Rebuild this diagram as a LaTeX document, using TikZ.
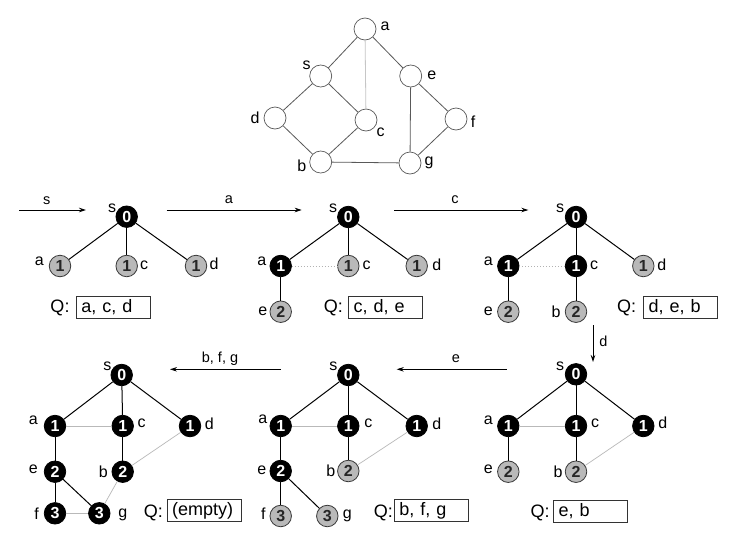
\documentclass[tikz,border=0pt]{standalone}
\usepackage{fontspec}
\setmainfont{Liberation Sans}
\usetikzlibrary{arrows.meta}
\begin{document}
\begin{tikzpicture}[x=1pt,y=-1pt,
  v/.style={circle, minimum size=21.5pt, inner sep=0pt, line width=0.8pt, font=\fontsize{16}{16}\selectfont\bfseries},
  bn/.style={v, fill=black, draw=black, text=white},
  gn/.style={v, fill=gray!55, draw=gray!45!black, text=black!85},
  wn/.style={circle, minimum size=22pt, inner sep=0pt, fill=white, draw=gray!70!black, line width=0.7pt},
  lab/.style={font=\fontsize{16}{16}\selectfont, inner sep=0.5pt},
  alab/.style={font=\fontsize{14.5}{14.5}\selectfont, inner sep=0.5pt},
  qlab/.style={font=\fontsize{18}{18}\selectfont, inner sep=0.5pt},
  qbox/.style={draw=black!80, line width=0.7pt, minimum width=74pt, minimum height=22pt, inner xsep=5pt, inner ysep=0pt, text width=64pt, align=left, anchor=west, font=\fontsize{18}{18}\selectfont},
  te/.style={black, line width=1pt},
  ne/.style={gray!55, line width=0.7pt},
  de/.style={gray!60, line width=1pt, dotted},
  ge/.style={gray!70!black, line width=0.8pt},
  gl/.style={gray!45, line width=0.8pt},
  trans/.style={-{Stealth[length=7pt,width=4.5pt]}, black, line width=0.8pt}
]
\useasboundingbox (0,0) rectangle (730,552);
\fill[white] (0,0) rectangle (730,552);

% ---------- top graph ----------
\node[wn] (Ga) at (365,29) {};
\node[wn] (Gs) at (320.7,76) {};
\node[wn] (Ge) at (410.7,76) {};
\node[wn] (Gd) at (275,118) {};
\node[wn] (Gc) at (366,120) {};
\node[wn] (Gf) at (456,119) {};
\node[wn] (Gb) at (320.7,162) {};
\node[wn] (Gg) at (410,163) {};
\node[lab] (GLa) at (385,26.7) {a};
\node[lab] (GLs) at (306.7,65) {s};
\node[lab] (GLe) at (431.7,75) {e};
\node[lab] (GLd) at (255,118) {d};
\node[lab] (GLc) at (380.7,132.7) {c};
\node[lab] (GLf) at (473,122) {f};
\node[lab] (GLb) at (301.7,165.7) {b};
\node[lab] (GLg) at (429,163) {g};
\draw[ge] (Ga) -- (Gs);
\draw[gl] (Ga) -- (Gc);
\draw[ge] (Ga) -- (Ge);
\draw[ge] (Gs) -- (Gd);
\draw[ge] (Gs) -- (Gc);
\draw[ge] (Gd) -- (Gb);
\draw[ge] (Gc) -- (Gb);
\draw[ge] (Gb) -- (Gg);
\draw[ge] (Ge) -- (Gg);
\draw[ge] (Ge) -- (Gf);
\draw[ge] (Gf) -- (Gg);

% ---------- transitions ----------
\coordinate (T1a) at (19,210);   \coordinate (T1b) at (86,210);
\coordinate (T2a) at (166.7,210); \coordinate (T2b) at (301.7,210);
\coordinate (T3a) at (394,210);  \coordinate (T3b) at (528.3,210);
\coordinate (T4a) at (593,325);  \coordinate (T4b) at (593,362);
\coordinate (T5a) at (506.7,369.3); \coordinate (T5b) at (396.7,369.3);
\coordinate (T6a) at (280.7,369.3); \coordinate (T6b) at (170,369.3);
\draw[trans] (T1a) -- (T1b);
\draw[trans] (T2a) -- (T2b);
\draw[trans] (T3a) -- (T3b);
\draw[trans] (T4a) -- (T4b);
\draw[trans] (T5a) -- (T5b);
\draw[trans] (T6a) -- (T6b);
\node[alab] (TL1) at (46.7,201) {s};
\node[alab] (TL2) at (229,200) {a};
\node[alab] (TL3) at (455,200) {c};
\node[alab] (TL4) at (603.3,341.7) {d};
\node[alab] (TL5) at (456,358.3) {e};
\node[alab] (TL6) at (220,359) {b, f, g};

% ---------- tree 1 ----------
\node[bn] (A1s) at (126.7,216.7) {0};
\node[gn] (A1a) at (60,266) {1};
\node[gn] (A1c) at (126.7,266) {1};
\node[gn] (A1d) at (196,266) {1};
\draw[te] (A1s) -- (A1a);
\draw[te] (A1s) -- (A1c);
\draw[te] (A1s) -- (A1d);
\node[lab] (A1Ls) at (112,208) {s};
\node[lab] (A1La) at (39.3,261) {a};
\node[lab] (A1Lc) at (144,265) {c};
\node[lab] (A1Ld) at (214,264) {d};
\node[qlab] (A1Q) at (60,308) {Q:};
\node[qbox] (A1B) at (76,307) {a, c, d};

% ---------- tree 2 ----------
\node[bn] (A2s) at (348.3,217) {0};
\node[bn] (A2a) at (280.7,266) {1};
\node[gn] (A2c) at (348.3,266) {1};
\node[gn] (A2d) at (416.7,266) {1};
\node[gn] (A2e) at (280.7,311.7) {2};
\draw[te] (A2s) -- (A2a);
\draw[te] (A2s) -- (A2c);
\draw[te] (A2s) -- (A2d);
\draw[te] (A2a) -- (A2e);
\draw[de] (A2a) -- (A2c);
\node[lab] (A2Ls) at (333,208) {s};
\node[lab] (A2La) at (261.7,261) {a};
\node[lab] (A2Lc) at (366.7,265) {c};
\node[lab] (A2Ld) at (436.7,265) {d};
\node[lab] (A2Le) at (262.7,311.7) {e};
\node[qlab] (A2Q) at (333.3,308) {Q:};
\node[qbox] (A2B) at (348.3,307) {c, d, e};

% ---------- tree 3 ----------
\node[bn] (A3s) at (576,217) {0};
\node[bn] (A3a) at (508.3,266) {1};
\node[bn] (A3c) at (576,266) {1};
\node[gn] (A3d) at (643.3,266) {1};
\node[gn] (A3e) at (508.3,311.7) {2};
\node[gn] (A3b) at (576,311.7) {2};
\draw[te] (A3s) -- (A3a);
\draw[te] (A3s) -- (A3c);
\draw[te] (A3s) -- (A3d);
\draw[te] (A3a) -- (A3e);
\draw[te] (A3c) -- (A3b);
\draw[de] (A3a) -- (A3c);
\node[lab] (A3Ls) at (560,208) {s};
\node[lab] (A3La) at (488.3,261.7) {a};
\node[lab] (A3Lc) at (594,265) {c};
\node[lab] (A3Ld) at (661.7,265) {d};
\node[lab] (A3Le) at (488.3,311.7) {e};
\node[lab] (A3Lb) at (556,311.7) {b};
\node[qlab] (A3Q) at (626.7,308) {Q:};
\node[qbox] (A3B) at (643.3,307) {d, e, b};

% ---------- tree 4 ----------
\node[bn] (A4s) at (576,374.3) {0};
\node[bn] (A4a) at (508.3,426) {1};
\node[bn] (A4c) at (576,426) {1};
\node[bn] (A4d) at (643.3,426) {1};
\node[gn] (A4e) at (508.3,471.7) {2};
\node[gn] (A4b) at (576,471.7) {2};
\draw[te] (A4s) -- (A4a);
\draw[te] (A4s) -- (A4c);
\draw[te] (A4s) -- (A4d);
\draw[te] (A4a) -- (A4e);
\draw[te] (A4c) -- (A4b);
\draw[ne] (A4a) -- (A4c);
\draw[ne] (A4d) -- (A4b);
\node[lab] (A4Ls) at (560,366.7) {s};
\node[lab] (A4La) at (488.3,420) {a};
\node[lab] (A4Lc) at (595,423) {c};
\node[lab] (A4Ld) at (662.7,423) {d};
\node[lab] (A4Le) at (488.3,469) {e};
\node[lab] (A4Lb) at (558,471.7) {b};
\node[qlab] (A4Q) at (540,512.7) {Q:};
\node[qbox] (A4B) at (553.3,511) {e, b};

% ---------- tree 5 ----------
\node[bn] (A5s) at (348.3,375) {0};
\node[bn] (A5a) at (280.7,426) {1};
\node[bn] (A5c) at (348.3,426) {1};
\node[bn] (A5d) at (416.7,426) {1};
\node[bn] (A5e) at (280.7,471) {2};
\node[gn] (A5b) at (348.3,471) {2};
\node[gn] (A5f) at (280.7,516) {3};
\node[gn] (A5g) at (327.3,516) {3};
\draw[te] (A5s) -- (A5a);
\draw[te] (A5s) -- (A5c);
\draw[te] (A5s) -- (A5d);
\draw[te] (A5a) -- (A5e);
\draw[te] (A5c) -- (A5b);
\draw[te] (A5e) -- (A5f);
\draw[te] (A5e) -- (A5g);
\draw[ne] (A5a) -- (A5c);
\draw[ne] (A5d) -- (A5b);
\node[lab] (A5Ls) at (333.3,366.7) {s};
\node[lab] (A5La) at (262.7,419.3) {a};
\node[lab] (A5Lc) at (368.3,423.3) {c};
\node[lab] (A5Ld) at (436.7,423.3) {d};
\node[lab] (A5Le) at (261.7,470) {e};
\node[lab] (A5Lb) at (330.7,471) {b};
\node[lab] (A5Lf) at (263.3,513.3) {f};
\node[lab] (A5Lg) at (347.3,516) {g};
\node[qlab] (A5Q) at (383.3,512.7) {Q:};
\node[qbox] (A5B) at (394,510.5) {b, f, g};

% ---------- tree 6 ----------
\node[bn] (A6s) at (121.7,375) {0};
\node[bn] (A6a) at (55,426) {1};
\node[bn] (A6c) at (122.7,426) {1};
\node[bn] (A6d) at (190,426) {1};
\node[bn] (A6e) at (55,471.7) {2};
\node[bn] (A6b) at (122.7,471.7) {2};
\node[bn] (A6f) at (55,513.3) {3};
\node[bn] (A6g) at (99.3,513.3) {3};
\draw[te] (A6s) -- (A6a);
\draw[te] (A6s) -- (A6c);
\draw[te] (A6s) -- (A6d);
\draw[te] (A6a) -- (A6e);
\draw[te] (A6c) -- (A6b);
\draw[te] (A6e) -- (A6f);
\draw[te] (A6e) -- (A6g);
\draw[ne] (A6a) -- (A6c);
\draw[ne] (A6d) -- (A6b);
\draw[ne] (A6b) -- (A6g);
\draw[ne] (A6f) -- (A6g);
\node[lab] (A6Ls) at (107.3,366) {s};
\node[lab] (A6La) at (33.3,420) {a};
\node[lab] (A6Lc) at (141.7,423.3) {c};
\node[lab] (A6Ld) at (209.3,423.3) {d};
\node[lab] (A6Le) at (33.3,469.3) {e};
\node[lab] (A6Lb) at (103.3,471.7) {b};
\node[lab] (A6Lf) at (36.7,513.3) {f};
\node[lab] (A6Lg) at (122.7,515) {g};
\node[qlab] (A6Q) at (153.3,512.7) {Q:};
\node[qbox] (A6B) at (166.7,510.5) {(empty)};
\end{tikzpicture}
\end{document}
